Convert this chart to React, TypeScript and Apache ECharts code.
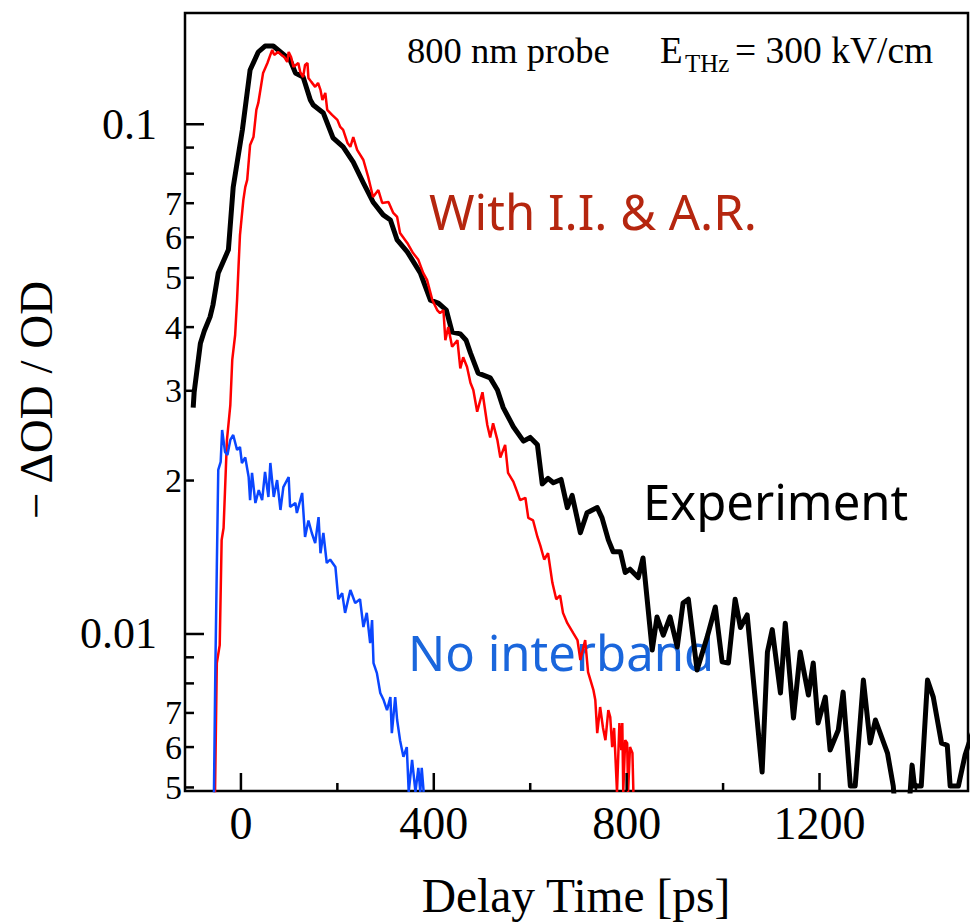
import React, { useEffect, useRef } from "react";
import * as echarts from "echarts";

const X_MIN = -116;
const X_MAX = 1508;
const Y_MIN = 0.00492;
const Y_MAX = 0.1653;

// Experiment (black)
const expX = [-99, -97, -84, -76, -64, -58, -47, -26, -16, 3, 19, 36, 50, 67, 82, 102, 113, 129, 144, 150, 171, 191, 212, 233, 254, 274, 295, 310, 324, 345, 372, 393, 409, 426, 438, 455, 467, 476, 492, 517, 532, 544, 565, 586, 600, 615, 625, 637, 648, 664, 677, 687, 704, 718, 739, 749, 762, 772, 787, 797, 807, 824, 834, 853, 863, 876, 890, 905, 917, 928, 946, 967, 984, 998, 1011, 1025, 1036, 1050, 1081, 1092, 1102, 1119, 1129, 1146, 1160, 1177, 1187, 1197, 1212, 1222, 1239, 1249, 1264, 1274, 1291, 1305, 1316, 1341, 1353, 1372, 1392, 1397, 1411, 1424, 1436, 1453, 1465, 1471, 1488, 1502, 1519];
const expY = [0.0278, 0.0298, 0.0372, 0.0393, 0.0419, 0.0442, 0.0511, 0.0567, 0.0753, 0.0975, 0.1278, 0.1386, 0.1424, 0.1424, 0.1386, 0.1337, 0.1261, 0.1238, 0.1116, 0.1091, 0.1052, 0.094, 0.0903, 0.0843, 0.0767, 0.0704, 0.0664, 0.0649, 0.0593, 0.0562, 0.0511, 0.0452, 0.0446, 0.0432, 0.0391, 0.0388, 0.0377, 0.0356, 0.0325, 0.0318, 0.0301, 0.0278, 0.0255, 0.0239, 0.0243, 0.0235, 0.0197, 0.0202, 0.0198, 0.0201, 0.0177, 0.0187, 0.0158, 0.0173, 0.0177, 0.0169, 0.0153, 0.0145, 0.0145, 0.0132, 0.0134, 0.0129, 0.0141, 0.0093, 0.0108, 0.00995, 0.0108, 0.00943, 0.0115, 0.0117, 0.0085, 0.00986, 0.0113, 0.00882, 0.00877, 0.0117, 0.0103, 0.0109, 0.00536, 0.00922, 0.0102, 0.00766, 0.0105, 0.00684, 0.00922, 0.00759, 0.00877, 0.00669, 0.00752, 0.00592, 0.00648, 0.00769, 0.00503, 0.00503, 0.00812, 0.00611, 0.00678, 0.00584, 0.00503, 0.003, 0.00553, 0.00503, 0.00503, 0.00812, 0.00752, 0.00611, 0.00605, 0.00503, 0.00503, 0.00579, 0.00648];

// With I.I. & A.R. (red)
const iiX = [-55, -50, -44, -40, -36, -29, -22, -18, -12, -8, -5, -2, 5, 9, 13, 19, 26, 32, 36, 42, 46, 55, 61, 65, 69, 77, 84, 90, 96, 99, 104, 109, 119, 123, 129, 133, 138, 140, 146, 154, 160, 165, 169, 175, 179, 189, 200, 206, 212, 221, 227, 233, 241, 254, 264, 274, 285, 293, 306, 316, 324, 330, 345, 357, 368, 378, 386, 397, 407, 413, 420, 424, 430, 438, 449, 455, 461, 469, 476, 482, 490, 501, 511, 517, 523, 532, 538, 548, 554, 565, 573, 579, 590, 596, 606, 615, 621, 629, 637, 646, 654, 662, 668, 677, 689, 698, 704, 714, 720, 731, 735, 739, 745, 751, 756, 762, 766, 770, 774, 780, 785, 789, 791, 793, 797, 801, 803, 807, 812, 814];
const iiY = [0.004, 0.00877, 0.00951, 0.01529, 0.01614, 0.02402, 0.02813, 0.03448, 0.0386, 0.0452, 0.0525, 0.0606, 0.071, 0.0753, 0.0778, 0.0911, 0.0944, 0.1067, 0.1101, 0.1194, 0.1261, 0.1319, 0.1368, 0.1399, 0.1368, 0.1386, 0.1368, 0.1355, 0.1325, 0.1386, 0.1355, 0.1296, 0.1319, 0.1266, 0.1238, 0.1307, 0.1319, 0.1233, 0.1211, 0.1184, 0.1205, 0.1168, 0.1116, 0.1152, 0.1067, 0.1043, 0.102, 0.0988, 0.0975, 0.0919, 0.0903, 0.0944, 0.0891, 0.0851, 0.0788, 0.072, 0.0743, 0.0701, 0.0704, 0.067, 0.0658, 0.0612, 0.0585, 0.0559, 0.0542, 0.0511, 0.0495, 0.0452, 0.0432, 0.0426, 0.0432, 0.0377, 0.04, 0.0366, 0.0377, 0.0332, 0.0349, 0.0334, 0.0311, 0.0301, 0.0273, 0.0298, 0.0257, 0.0243, 0.0259, 0.024, 0.0222, 0.0235, 0.0207, 0.0199, 0.019, 0.0183, 0.0185, 0.0169, 0.0167, 0.0155, 0.0149, 0.014, 0.0144, 0.0126, 0.0117, 0.0119, 0.011, 0.0105, 0.01005, 0.00973, 0.00889, 0.00973, 0.00842, 0.00777, 0.00742, 0.00639, 0.00719, 0.00654, 0.00619, 0.00709, 0.00687, 0.006, 0.00654, 0.0049, 0.00669, 0.00592, 0.00669, 0.0049, 0.00619, 0.00611, 0.0049, 0.006, 0.00584, 0.0049];

// No interband (blue)
const noX = [-57, -53, -50, -47, -42, -39, -33, -28, -22, -16, -8, -2, 2, 9, 16, 19, 23, 30, 37, 44, 50, 57, 61, 68, 75, 82, 88, 99, 102, 113, 116, 127, 133, 140, 147, 154, 161, 165, 171, 178, 185, 196, 202, 210, 216, 227, 237, 247, 254, 261, 268, 272, 275, 282, 289, 296, 303, 310, 313, 320, 324, 330, 337, 344, 348, 355, 362, 368, 372, 375, 379];
const noY = [0.004, 0.00861, 0.01353, 0.02098, 0.02175, 0.02513, 0.02276, 0.02245, 0.02402, 0.02457, 0.02296, 0.02327, 0.02165, 0.0222, 0.02032, 0.0183, 0.0207, 0.01807, 0.01916, 0.0183, 0.02079, 0.01857, 0.02165, 0.01857, 0.02004, 0.01751, 0.01942, 0.02032, 0.01775, 0.01807, 0.01727, 0.01891, 0.0155, 0.0167, 0.01578, 0.01508, 0.01696, 0.0144, 0.01578, 0.01378, 0.014, 0.01353, 0.0117, 0.01203, 0.011, 0.0122, 0.0115, 0.0117, 0.01032, 0.011, 0.0096, 0.01065, 0.00877, 0.00838, 0.00766, 0.00742, 0.00709, 0.00752, 0.00639, 0.00752, 0.00678, 0.00619, 0.00574, 0.006, 0.0049, 0.00566, 0.0049, 0.00546, 0.0049, 0.00546, 0.0049];

const yTickValues = [0.1, 0.09, 0.08, 0.07, 0.06, 0.05, 0.04, 0.03, 0.02, 0.01, 0.009, 0.008, 0.007, 0.006, 0.005];
const yTickLabels = ["0.1", "", "", "7", "6", "5", "4", "3", "2", "0.01", "", "", "7", "6", "5"];
const yTickMajor = [true, false, false, false, false, false, false, false, false, true, false, false, false, false, false];

const xTickValues = [0, 200, 400, 600, 800, 1000, 1200, 1400];
const xTickLabels = ["0", "", "400", "", "800", "", "1200", ""];

const SERIF = "'Liberation Serif', 'Times New Roman', serif";
const SANS = "'Noto Sans', sans-serif";

function zip(xs: number[], ys: number[]) {
  return xs.map((x, i) => [x, ys[i]]);
}

export default function App() {
  const ref = useRef<HTMLDivElement>(null);
  useEffect(() => {
    const chart = echarts.init(ref.current!, null, { renderer: "svg" });
    const option: any = {
      animation: false,
      backgroundColor: "#fff",
      grid: {
        left: 185,
        top: 13,
        width: 783,
        height: 778,
        show: true,
        borderColor: "#000",
        borderWidth: 2.5,
        backgroundColor: "transparent",
      },
      xAxis: {
        type: "value",
        min: X_MIN,
        max: X_MAX,
        axisLine: { show: false },
        axisTick: { show: false },
        axisLabel: { show: false },
        splitLine: { show: false },
      },
      yAxis: {
        type: "log",
        logBase: 10,
        min: Y_MIN,
        max: Y_MAX,
        axisLine: { show: false },
        axisTick: { show: false },
        axisLabel: { show: false },
        splitLine: { show: false },
      },
      graphic: {
        elements: [
          { type: "text", z: 0, x: 429, y: 211, style: { text: "With I.I. & A.R.", fill: "#b5260f", fontSize: 49, fontFamily: SANS, align: "left", verticalAlign: "middle" } },
          { type: "text", z: 0, x: 643, y: 501, style: { text: "Experiment", fill: "#000", fontSize: 49, fontFamily: SANS, align: "left", verticalAlign: "middle" } },
          { type: "text", z: 0, x: 408, y: 652, style: { text: "No interband", fill: "#1a66dc", fontSize: 49, fontFamily: SANS, align: "left", verticalAlign: "middle" } },
          { type: "text", z: 0, x: 407, y: 50, style: { text: "800 nm probe", fill: "#000", fontSize: 36.5, fontFamily: SERIF, align: "left", verticalAlign: "middle" } },
          { type: "text", z: 0, x: 660, y: 50, style: { text: "E", fill: "#000", fontSize: 37, fontFamily: SERIF, align: "left", verticalAlign: "middle" } },
          { type: "text", z: 0, x: 685, y: 63, style: { text: "THz", fill: "#000", fontSize: 25, fontFamily: SERIF, align: "left", verticalAlign: "middle" } },
          { type: "text", z: 0, x: 735, y: 50, style: { text: "= 300 kV/cm", fill: "#000", fontSize: 37.5, fontFamily: SERIF, align: "left", verticalAlign: "middle" } },
          { type: "text", z: 0, x: 576, y: 896, style: { text: "Delay Time [ps]", fill: "#000", fontSize: 47.5, fontFamily: SERIF, align: "center", verticalAlign: "middle" } },
          { type: "text", z: 0, x: 36, y: 400, rotation: Math.PI / 2, style: { text: "\u2212 \u0394OD / OD", fill: "#000", fontSize: 47, fontFamily: SERIF, align: "center", verticalAlign: "middle" } },
        ],
      },
      series: [
        {
          type: "line",
          name: "Experiment",
          data: zip(expX, expY),
          showSymbol: false,
          symbol: "none",
          lineStyle: { color: "#000", width: 5, join: "round" },
          z: 3,
        },
        {
          type: "line",
          name: "With I.I. & A.R.",
          data: zip(iiX, iiY),
          showSymbol: false,
          symbol: "none",
          lineStyle: { color: "#ff0000", width: 2.5 },
          z: 4,
        },
        {
          type: "line",
          name: "No interband",
          data: zip(noX, noY),
          showSymbol: false,
          symbol: "none",
          lineStyle: { color: "#0a46ff", width: 2.5 },
          z: 5,
        },
        {
          type: "custom",
          name: "yTicks",
          silent: true,
          clip: false,
          z: 6,
          data: yTickValues.map((v) => [X_MIN, v]),
          renderItem: (params: any, api: any) => {
            const idx = params.dataIndex;
            const p = api.coord([X_MIN, api.value(1)]);
            const major = yTickMajor[idx];
            const len = major ? 19 : 9;
            const children: any[] = [
              { type: "line", shape: { x1: p[0], y1: p[1], x2: p[0] + len, y2: p[1] }, style: { stroke: "#000", lineWidth: 2.5 } },
            ];
            const label = yTickLabels[idx];
            if (label) {
              children.push({
                type: "text",
                x: major ? p[0] - 28 : p[0] - 3,
                y: p[1],
                style: { text: label, fill: "#000", fontSize: major ? 44 : 34, fontFamily: SERIF, align: "right", verticalAlign: "middle" },
              });
            }
            return { type: "group", children };
          },
        },
        {
          type: "custom",
          name: "xTicks",
          silent: true,
          clip: false,
          z: 6,
          data: xTickValues.map((v) => [v, Y_MIN]),
          renderItem: (params: any, api: any) => {
            const idx = params.dataIndex;
            const p = api.coord([api.value(0), Y_MIN]);
            const label = xTickLabels[idx];
            const len = label ? 18 : 8;
            const children: any[] = [
              { type: "line", shape: { x1: p[0], y1: p[1], x2: p[0], y2: p[1] - len }, style: { stroke: "#000", lineWidth: 2.5 } },
            ];
            if (label) {
              children.push({
                type: "text",
                x: p[0],
                y: p[1] + 32,
                style: { text: label, fill: "#000", fontSize: 46, fontFamily: SERIF, align: "center", verticalAlign: "middle" },
              });
            }
            return { type: "group", children };
          },
        },
      ],
    };
    chart.setOption(option);
    return () => chart.dispose();
  }, []);
  return (
    <div
      ref={ref}
      style={{ position: "absolute", left: 0, top: 0, width: 970, height: 922, background: "#fff" }}
    />
  );
}
